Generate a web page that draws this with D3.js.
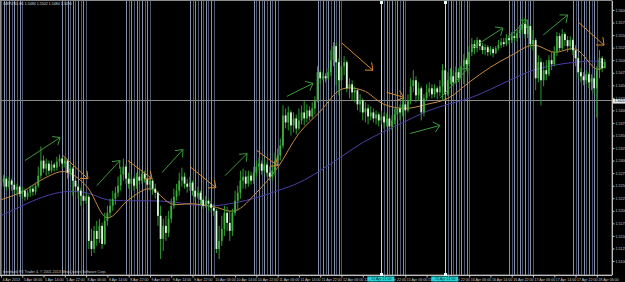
<!DOCTYPE html>
<html>
<head>
<meta charset="utf-8">
<script src="https://cdn.jsdelivr.net/npm/d3@7"></script>
<style>
  html, body { margin: 0; padding: 0; background: #000; }
  svg { display: block; }
  text { font-family: "Liberation Sans", Arial, sans-serif; }
</style>
</head>
<body>
<div id="chart"></div>
<script>
// GBPUSD H1, one bar per hour, open = previous close
const symbol = "GBPUSD,H1";
const firstOpen = 1.5250;
const firstHour = 22; // hour of bar 0 (4 Apr 22:00)

const closes = [
  1.5256,1.5264,1.5248,1.5260,1.5252,1.5242,1.5248,1.5234,1.5240,1.5228,
  1.5236,1.5244,1.5238,1.5250,1.5270,1.5300,1.5284,1.5294,1.5280,1.5292,
  1.5286,1.5298,1.5304,1.5294,1.5300,1.5276,1.5284,1.5260,1.5248,1.5240,
  1.5230,1.5220,1.5228,1.5140,1.5124,1.5160,1.5144,1.5170,1.5134,1.5180,
  1.5196,1.5210,1.5224,1.5236,1.5250,1.5272,1.5288,1.5264,1.5254,1.5264,
  1.5250,1.5268,1.5260,1.5274,1.5264,1.5252,1.5260,1.5244,1.5236,1.5190,
  1.5144,1.5170,1.5156,1.5184,1.5210,1.5228,1.5240,1.5260,1.5268,1.5254,
  1.5248,1.5256,1.5240,1.5228,1.5236,1.5222,1.5210,1.5220,1.5214,1.5206,
  1.5200,1.5124,1.5140,1.5164,1.5196,1.5176,1.5160,1.5196,1.5220,1.5236,
  1.5260,1.5268,1.5254,1.5270,1.5260,1.5276,1.5288,1.5294,1.5280,1.5292,
  1.5276,1.5268,1.5280,1.5300,1.5310,1.5330,1.5390,1.5376,1.5396,1.5370,
  1.5384,1.5364,1.5380,1.5396,1.5384,1.5400,1.5388,1.5404,1.5420,1.5476,
  1.5464,1.5468,1.5464,1.5476,1.5500,1.5528,1.5496,1.5460,1.5488,1.5496,
  1.5444,1.5452,1.5436,1.5440,1.5412,1.5420,1.5396,1.5404,1.5388,1.5396,
  1.5384,1.5392,1.5380,1.5388,1.5376,1.5384,1.5368,1.5380,1.5392,1.5404,
  1.5396,1.5412,1.5400,1.5420,1.5448,1.5460,1.5430,1.5444,1.5396,1.5424,
  1.5436,1.5444,1.5432,1.5444,1.5436,1.5448,1.5480,1.5432,1.5460,1.5468,
  1.5456,1.5476,1.5464,1.5488,1.5500,1.5492,1.5516,1.5532,1.5524,1.5540,
  1.5528,1.5520,1.5526,1.5516,1.5522,1.5514,1.5524,1.5530,1.5536,1.5532,
  1.5544,1.5540,1.5548,1.5544,1.5554,1.5560,1.5572,1.5552,1.5568,1.5532,
  1.5540,1.5464,1.5496,1.5460,1.5480,1.5472,1.5500,1.5492,1.5516,1.5548,
  1.5524,1.5552,1.5540,1.5528,1.5540,1.5520,1.5504,1.5476,1.5468,1.5460,
  1.5472,1.5456,1.5464,1.5444,1.5480,1.5504,1.5484,1.5496
];

const highs = [
  1.5268,1.5272,1.5268,1.5268,1.5264,1.5256,1.5254,1.5250,1.5248,1.5244,
  1.5242,1.5250,1.5252,1.5256,1.5288,1.5328,1.5310,1.5304,1.5300,1.5300,
  1.5296,1.5308,1.5312,1.5308,1.5306,1.5302,1.5294,1.5288,1.5264,1.5254,
  1.5246,1.5238,1.5236,1.5232,1.5164,1.5170,1.5180,1.5184,1.5176,1.5196,
  1.5210,1.5224,1.5240,1.5248,1.5268,1.5288,1.5304,1.5294,1.5276,1.5272,
  1.5268,1.5276,1.5280,1.5282,1.5280,1.5272,1.5268,1.5264,1.5254,1.5240,
  1.5210,1.5184,1.5190,1.5200,1.5224,1.5244,1.5254,1.5276,1.5286,1.5276,
  1.5264,1.5268,1.5260,1.5246,1.5248,1.5240,1.5228,1.5230,1.5224,1.5220,
  1.5214,1.5204,1.5170,1.5190,1.5210,1.5208,1.5200,1.5204,1.5240,1.5250,
  1.5280,1.5284,1.5280,1.5280,1.5278,1.5288,1.5300,1.5306,1.5300,1.5304,
  1.5296,1.5288,1.5290,1.5316,1.5324,1.5344,1.5410,1.5404,1.5408,1.5400,
  1.5396,1.5392,1.5404,1.5410,1.5420,1.5412,1.5408,1.5416,1.5428,1.5488,
  1.5480,1.5476,1.5474,1.5484,1.5520,1.5536,1.5534,1.5504,1.5500,1.5508,
  1.5500,1.5464,1.5460,1.5448,1.5444,1.5432,1.5424,1.5416,1.5412,1.5408,
  1.5404,1.5400,1.5396,1.5400,1.5396,1.5394,1.5392,1.5390,1.5404,1.5416,
  1.5412,1.5424,1.5420,1.5432,1.5464,1.5480,1.5468,1.5456,1.5448,1.5432,
  1.5452,1.5456,1.5452,1.5452,1.5448,1.5460,1.5492,1.5484,1.5476,1.5484,
  1.5480,1.5488,1.5484,1.5496,1.5512,1.5504,1.5528,1.5544,1.5540,1.5546,
  1.5542,1.5534,1.5532,1.5530,1.5528,1.5526,1.5528,1.5540,1.5544,1.5544,
  1.5552,1.5550,1.5556,1.5554,1.5562,1.5570,1.5582,1.5584,1.5576,1.5572,
  1.5560,1.5544,1.5510,1.5504,1.5496,1.5500,1.5510,1.5516,1.5528,1.5556,
  1.5554,1.5562,1.5556,1.5548,1.5548,1.5544,1.5530,1.5508,1.5484,1.5476,
  1.5480,1.5476,1.5472,1.5468,1.5488,1.5520,1.5508,1.5502
];

const lows = [
  1.5244,1.5248,1.5240,1.5244,1.5240,1.5234,1.5230,1.5228,1.5224,1.5220,
  1.5222,1.5228,1.5230,1.5232,1.5246,1.5264,1.5276,1.5270,1.5272,1.5276,
  1.5278,1.5280,1.5288,1.5284,1.5286,1.5264,1.5268,1.5230,1.5236,1.5224,
  1.5210,1.5204,1.5214,1.5124,1.5110,1.5116,1.5130,1.5136,1.5124,1.5132,
  1.5170,1.5188,1.5200,1.5212,1.5228,1.5240,1.5260,1.5254,1.5244,1.5240,
  1.5240,1.5244,1.5252,1.5254,1.5256,1.5244,1.5240,1.5232,1.5224,1.5170,
  1.5104,1.5120,1.5140,1.5148,1.5176,1.5204,1.5220,1.5230,1.5248,1.5244,
  1.5236,1.5240,1.5230,1.5220,1.5224,1.5212,1.5204,1.5206,1.5200,1.5196,
  1.5190,1.5116,1.5104,1.5130,1.5150,1.5160,1.5140,1.5150,1.5190,1.5200,
  1.5224,1.5244,1.5244,1.5248,1.5252,1.5254,1.5268,1.5280,1.5272,1.5274,
  1.5268,1.5260,1.5260,1.5270,1.5290,1.5300,1.5324,1.5364,1.5360,1.5350,
  1.5356,1.5352,1.5360,1.5372,1.5370,1.5376,1.5380,1.5384,1.5392,1.5416,
  1.5452,1.5460,1.5456,1.5460,1.5468,1.5488,1.5450,1.5430,1.5444,1.5470,
  1.5436,1.5424,1.5420,1.5416,1.5400,1.5396,1.5380,1.5376,1.5372,1.5380,
  1.5376,1.5372,1.5368,1.5372,1.5364,1.5368,1.5358,1.5360,1.5372,1.5384,
  1.5380,1.5388,1.5390,1.5396,1.5412,1.5436,1.5416,1.5420,1.5380,1.5388,
  1.5420,1.5428,1.5424,1.5426,1.5422,1.5428,1.5420,1.5424,1.5428,1.5452,
  1.5448,1.5452,1.5456,1.5460,1.5452,1.5480,1.5488,1.5508,1.5512,1.5516,
  1.5520,1.5512,1.5510,1.5508,1.5510,1.5506,1.5512,1.5520,1.5524,1.5526,
  1.5528,1.5532,1.5534,1.5536,1.5538,1.5544,1.5552,1.5544,1.5544,1.5524,
  1.5520,1.5440,1.5456,1.5410,1.5448,1.5460,1.5468,1.5480,1.5488,1.5508,
  1.5516,1.5520,1.5528,1.5516,1.5520,1.5510,1.5488,1.5464,1.5456,1.5450,
  1.5452,1.5444,1.5440,1.5432,1.5386,1.5464,1.5476,1.5486
];

// moving averages, read every 8 bars
const maBars = [0,8,16,24,32,40,48,56,64,72,80,88,96,104,112,120,128,136,144,152,160,168,176,184,192,200,208,216,224,227];
const maFast = [1.5222,1.5238,1.5264,1.5278,1.5250,1.5186,1.5222,1.5244,1.5214,1.5214,1.5208,1.5200,1.5236,1.5286,1.5354,1.5398,1.5442,1.5440,1.5412,1.5404,1.5412,1.5424,1.5456,1.5486,1.5510,1.5530,1.5516,1.5522,1.5482,1.5488];
const maSlow = [1.5190,1.5210,1.5228,1.5238,1.5236,1.5222,1.5220,1.5220,1.5218,1.5212,1.5210,1.5216,1.5226,1.5240,1.5256,1.5280,1.5308,1.5336,1.5358,1.5378,1.5398,1.5412,1.5424,1.5442,1.5462,1.5480,1.5490,1.5496,1.5498,1.5494];

// hand-drawn trend arrows: [bar1, price1, bar2, price2]
const upArrows = [
  [9, 1.5300, 22.2, 1.5346], [36, 1.5250, 44.7, 1.5300], [60.5, 1.5276, 68.4, 1.5322],
  [84.2, 1.5270, 92.5, 1.5314], [107.5, 1.5428, 117.3, 1.5454], [153.8, 1.5354, 165, 1.5370],
  [165, 1.5424, 175.6, 1.5484], [177, 1.5524, 188.7, 1.5564], [190.6, 1.5546, 198, 1.5580],
  [203.8, 1.5550, 213, 1.5590]
];
const downArrows = [
  [23.3, 1.5310, 32.7, 1.5264], [47.7, 1.5300, 56.8, 1.5264], [71, 1.5288, 80.8, 1.5246],
  [96.2, 1.5320, 104, 1.5290], [128.2, 1.5534, 139.8, 1.5480], [145, 1.5436, 151.5, 1.5426],
  [217, 1.5576, 226.7, 1.5530]
];

const priceTicks = [1.5600,1.5575,1.5550,1.5525,1.5500,1.5475,1.5450,1.5425,1.5400,1.5375,1.5350,
                    1.5325,1.5300,1.5275,1.5250,1.5225,1.5200,1.5175,1.5150,1.5125,1.5100];
const hLinePrice = 1.5420;

const timeTickBars = [0,8,16,24,32,40,48,56,64,72,80,88,96,104,112,120,128,136,144,152,160,168,176,184,192,200,208,216,224];
const timeLabels = ["4 Apr 2013","5 Apr 06:00","5 Apr 14:00","5 Apr 22:00","8 Apr 06:00","8 Apr 14:00","8 Apr 22:00",
  "9 Apr 06:00","9 Apr 14:00","9 Apr 22:00","10 Apr 06:00","10 Apr 14:00","10 Apr 22:00","11 Apr 06:00",
  "11 Apr 14:00","11 Apr 22:00","12 Apr 06:00","12 Apr 14:00","12 Apr 22:00","15 Apr 06:00","15 Apr 14:00",
  "15 Apr 22:00","16 Apr 06:00","16 Apr 14:00","16 Apr 22:00","17 Apr 06:00","17 Apr 14:00","17 Apr 22:00","18 Apr 06:00"];

const sessionHours = [21,22,23,0,1,2,3,4,5,6];
const vLineBars = [143, 167];
const vLineLabels = ["12 Apr 21:00", "15 Apr 21:00"];

const width = 625, height = 282;
const plotRight = 612, plotTop = 1, plotBottom = 275;
const fontSize = 3.6;

let svg = d3.select("#chart")
  .append("svg")
  .attr("width", width)
  .attr("height", height)
  .style("background", "#000");

let x = d3.scaleLinear().domain([0, closes.length - 1]).range([1, 1 + (closes.length - 1) * 2.66]);
let y = d3.scaleLinear().domain([1.5100, 1.5600]).range([261, 10]);

let bars = closes.map((c, i) => {
  let o = i === 0 ? firstOpen : closes[i - 1];
  return { i: i, o: o, c: c, h: Math.max(highs[i], o, c), l: Math.min(lows[i], o, c) };
});

// session lines (21:00 - 06:00)
let sessionBars = d3.range(closes.length).filter(i => sessionHours.includes((firstHour + i) % 24));
svg.append("g")
  .selectAll("line")
  .data(sessionBars)
  .enter()
  .append("line")
  .attr("x1", d => Math.round(x(d)) + 0.5)
  .attr("x2", d => Math.round(x(d)) + 0.5)
  .attr("y1", plotTop)
  .attr("y2", plotBottom)
  .attr("stroke", d => ((firstHour + d) % 2 === 0) ? "#4d5870" : "#8591ad")
  .attr("stroke-width", 1);

// vertical line objects
svg.append("g")
  .selectAll("line")
  .data(vLineBars)
  .enter()
  .append("line")
  .attr("x1", d => Math.round(x(d)) + 0.5)
  .attr("x2", d => Math.round(x(d)) + 0.5)
  .attr("y1", plotTop)
  .attr("y2", plotBottom)
  .attr("stroke", "#b8d8e4");

svg.append("g")
  .selectAll("rect")
  .data(vLineBars)
  .enter()
  .append("rect")
  .attr("x", d => Math.round(x(d)) - 1)
  .attr("y", plotTop)
  .attr("width", 3)
  .attr("height", 3)
  .attr("fill", "#e8ffff");

// horizontal line
svg.append("line")
  .attr("x1", 0).attr("x2", plotRight)
  .attr("y1", Math.round(y(hLinePrice)) + 0.5)
  .attr("y2", Math.round(y(hLinePrice)) + 0.5)
  .attr("stroke", "#8a8a8a");

// moving averages
let maLine = series => d3.line()
  .x((d, i) => x(maBars[i]))
  .y(d => y(d))
  .curve(d3.curveCatmullRom)(series);

svg.append("path").attr("d", maLine(maSlow)).attr("fill", "none").attr("stroke", "#4a3fa8").attr("stroke-width", 1);
svg.append("path").attr("d", maLine(maFast)).attr("fill", "none").attr("stroke", "#c9893e").attr("stroke-width", 1);

// candles
let candles = svg.append("g")
  .selectAll("g")
  .data(bars)
  .enter()
  .append("g");

candles.append("line")
  .attr("x1", d => x(d.i))
  .attr("x2", d => x(d.i))
  .attr("y1", d => y(d.h))
  .attr("y2", d => y(d.l))
  .attr("stroke", "#2f9a2f")
  .attr("stroke-width", 1);

candles.append("rect")
  .attr("x", d => x(d.i) - 0.9)
  .attr("width", 1.8)
  .attr("y", d => y(Math.max(d.o, d.c)))
  .attr("height", d => Math.max(1, Math.abs(y(d.o) - y(d.c))))
  .attr("fill", d => d.c >= d.o ? "#3fae3f" : "#dcf7dc");

// arrows
function drawArrows(list, color) {
  let g = svg.append("g").attr("stroke", color).attr("stroke-width", 1).attr("fill", "none");
  list.forEach(a => {
    let x1 = x(a[0]), y1 = y(a[1]), x2 = x(a[2]), y2 = y(a[3]);
    let ang = Math.atan2(y1 - y2, x1 - x2);
    let len = 8;
    g.append("line").attr("x1", x1).attr("y1", y1).attr("x2", x2).attr("y2", y2);
    [-0.7, 0.7].forEach(da => {
      g.append("line")
        .attr("x1", x2).attr("y1", y2)
        .attr("x2", x2 + len * Math.cos(ang + da))
        .attr("y2", y2 + len * Math.sin(ang + da));
    });
  });
}
drawArrows(upArrows, "#3a9a3a");
drawArrows(downArrows, "#d98a2c");

// frame
svg.append("rect")
  .attr("x", 0.5).attr("y", 0.5)
  .attr("width", plotRight - 0.5).attr("height", plotBottom - 0.5)
  .attr("fill", "none").attr("stroke", "#8c8c8c");

// price axis
let yAxis = svg.append("g")
  .attr("transform", `translate(${plotRight + 0.5},0)`)
  .call(d3.axisRight(y).tickValues(priceTicks).tickFormat(d3.format(".4f")).tickSize(2).tickPadding(1));
yAxis.select(".domain").attr("stroke", "#c0c0c0").attr("d", `M0,${plotTop}V${plotBottom}`);
yAxis.selectAll(".tick line").attr("stroke", "#c0c0c0");
yAxis.selectAll("text").attr("fill", "#c8c8c8").style("font-size", fontSize + "px").attr("font-family", "Liberation Sans, Arial, sans-serif");

// price label of the horizontal line, set just under the grid label above it
let hy = y(hLinePrice);
svg.append("rect").attr("x", plotRight + 1).attr("y", hy - 1.4).attr("width", width - plotRight - 1).attr("height", 4.6).attr("fill", "#e8e8e8");
svg.append("text").attr("x", plotRight + 2.5).attr("y", hy + 0.9).attr("dy", "0.35em")
  .attr("fill", "#000").style("font-size", "3.3px").text(hLinePrice.toFixed(4));

// time axis
let xAxis = svg.append("g")
  .attr("transform", `translate(0,${plotBottom + 0.5})`)
  .call(d3.axisBottom(x).tickValues(timeTickBars).tickFormat((d, i) => timeLabels[i]).tickSize(2).tickPadding(1));
xAxis.select(".domain").attr("stroke", "#c0c0c0").attr("d", `M0,0H${plotRight}`);
xAxis.selectAll(".tick line").attr("stroke", "#c0c0c0");
xAxis.selectAll("text")
  .attr("fill", "#c8c8c8")
  .attr("text-anchor", "start")
  .attr("dx", "1")
  .style("font-size", fontSize + "px")
  .attr("font-family", "Liberation Sans, Arial, sans-serif");

// labels of the vertical line objects
vLineBars.forEach((b, k) => {
  let bx = x(b);
  svg.append("rect").attr("x", bx - 14).attr("y", plotBottom + 1.5).attr("width", 27).attr("height", 5).attr("fill", "#22cfd2");
  svg.append("rect").attr("x", Math.round(bx) - 1).attr("y", plotBottom - 2).attr("width", 3).attr("height", 3).attr("fill", "#e8ffff");
  svg.append("text").attr("x", bx).attr("y", plotBottom + 4).attr("dy", "0.35em").attr("text-anchor", "middle")
    .attr("fill", "#003838").style("font-size", fontSize + "px").text(vLineLabels[k]);
});

// header: symbol and last bar OHLC
let last = bars[bars.length - 1];
svg.append("text")
  .attr("x", 3).attr("y", 4).attr("dy", "0.35em")
  .attr("fill", "#d8d8d8").style("font-size", fontSize + "px")
  .text(`${symbol}  ${last.o.toFixed(4)} ${last.h.toFixed(4)} ${last.l.toFixed(4)} ${last.c.toFixed(4)}`);

svg.append("text")
  .attr("x", 3).attr("y", plotBottom - 3).attr("dy", "0.35em")
  .attr("fill", "#c8c8c8").style("font-size", fontSize + "px")
  .text("Interbank FX Trader 4, © 2001-2013 MetaQuotes Software Corp.");
</script>
</body>
</html>
